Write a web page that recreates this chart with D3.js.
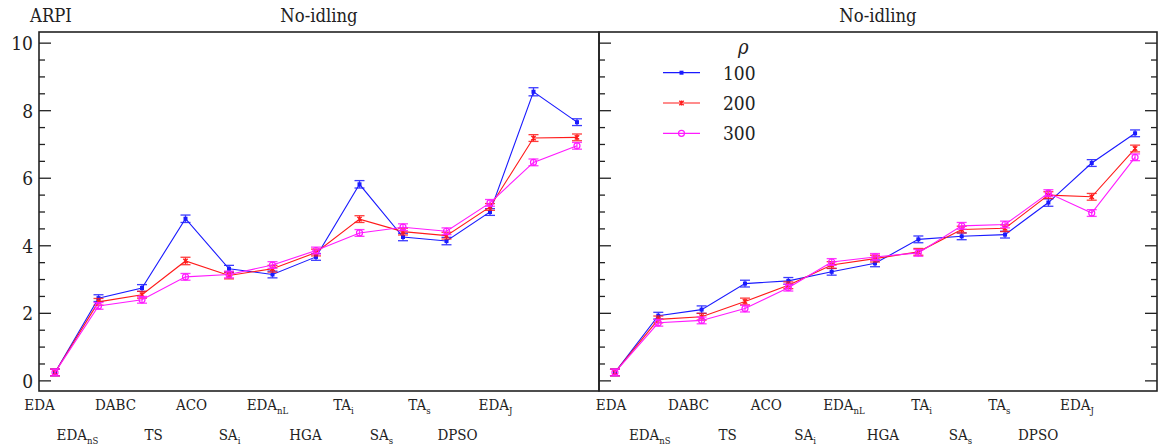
<!DOCTYPE html>
<html><head><meta charset="utf-8">
<script src="https://cdn.jsdelivr.net/npm/d3@7/dist/d3.min.js"></script>
<style>
body{margin:0;background:#fff;}
svg{display:block;}
</style></head>
<body><svg id="c" width="1163" height="445"></svg>
<script>
// ---- data ----
const categories = ["EDA","EDA_nS","DABC","TS","ACO","SA_i","EDA_nL","HGA","TA_i","SA_s","TA_s","DPSO","EDA_J"];
const rhoLabels = ["100","200","300"];
const yTicks = [0,2,4,6,8,10];
// Left panel (No-idling)
const left100 = [0.25,2.45,2.75,4.8,3.32,3.15,3.67,5.82,4.26,4.14,5.0,8.56,7.66];
const left200 = [0.25,2.34,2.55,3.55,3.12,3.32,3.8,4.79,4.42,4.3,5.15,7.19,7.21];
const left300 = [0.25,2.22,2.4,3.08,3.15,3.43,3.86,4.38,4.55,4.43,5.27,6.47,6.96];
const leftErr100 = [0.1,0.1,0.1,0.11,0.1,0.1,0.1,0.11,0.11,0.11,0.1,0.12,0.1];
const leftErr200 = [0.1,0.1,0.1,0.11,0.1,0.1,0.1,0.1,0.1,0.1,0.1,0.1,0.1];
const leftErr300 = [0.1,0.1,0.1,0.1,0.1,0.1,0.1,0.1,0.1,0.1,0.1,0.1,0.1];
// Right panel (No-idling)
const right100 = [0.25,1.93,2.11,2.88,2.96,3.23,3.48,4.19,4.28,4.33,5.28,6.45,7.33];
const right200 = [0.25,1.82,1.9,2.35,2.83,3.43,3.62,3.82,4.48,4.52,5.5,5.45,6.88];
const right300 = [0.25,1.72,1.79,2.14,2.76,3.52,3.67,3.79,4.59,4.63,5.56,4.97,6.62];
const rightErr100 = [0.1,0.1,0.11,0.1,0.1,0.1,0.1,0.1,0.1,0.1,0.11,0.1,0.1];
const rightErr200 = [0.1,0.1,0.1,0.1,0.1,0.1,0.1,0.1,0.1,0.1,0.1,0.1,0.1];
const rightErr300 = [0.1,0.1,0.1,0.1,0.1,0.1,0.1,0.1,0.1,0.1,0.1,0.1,0.1];

const colors = ["#1a1aff","#ff1a1a","#ff1aff"];
const FONT = "'DejaVu Serif Condensed', 'DejaVu Serif', serif";
const svg = d3.select("#c").attr("font-family", FONT);
const plotTop = 32, plotBottom = 391;
const y = d3.scaleLinear().domain([-0.3,10.33]).range([plotBottom, plotTop]);
const minorTicks = d3.range(0, 10.01, 0.5);

const panels = [
  {x0:39, x1:599, title:"No-idling", series:[left100,left200,left300], errs:[leftErr100,leftErr200,leftErr300], labelRange:[39.5,495.5], yLabels:true, rightTicks:false},
  {x0:599, x1:1157, title:"No-idling", series:[right100,right200,right300], errs:[rightErr100,rightErr200,rightErr300], labelRange:[611,1077], yLabels:false, rightTicks:true}
];

function labelText(sel, name){
  const parts = name.split("_");
  sel.append("tspan").text(parts[0]);
  if(parts[1]) sel.append("tspan").attr("font-size",9.5).attr("dy",4).text(parts[1]);
}

function marker(g, k, cx, cy, c){
  if(k===0){
    g.append("rect").attr("x",cx-2).attr("y",cy-2).attr("width",4).attr("height",4).attr("fill",c);
  } else if(k===1){
    g.append("path").attr("d",`M${cx-2.2},${cy-2.2}L${cx+2.2},${cy+2.2}M${cx-2.2},${cy+2.2}L${cx+2.2},${cy-2.2}M${cx},${cy-2.6}L${cx},${cy+2.6}`)
      .attr("stroke",c).attr("stroke-width",1.3);
  } else {
    g.append("circle").attr("cx",cx).attr("cy",cy).attr("r",3).attr("fill","none").attr("stroke",c).attr("stroke-width",1.2);
  }
}

panels.forEach((p,pi)=>{
  const x = d3.scaleLinear().domain([-0.368,12.506]).range([p.x0,p.x1]);
  const lx = d3.scalePoint().domain(categories).range(p.labelRange);
  const g = svg.append("g");

  p.series.forEach((vals,k)=>{
    const c = colors[k];
    const line = d3.line().x((d,i)=>x(i)).y(d=>y(d));
    g.append("path").datum(vals).attr("d",line).attr("fill","none").attr("stroke",c).attr("stroke-width",1.1);
    vals.forEach((v,i)=>{
      const e = p.errs[k][i];
      const cx = x(i);
      const eg = g.append("g").attr("stroke",c).attr("stroke-width",1.3).attr("opacity",0.85);
      eg.append("line").attr("x1",cx).attr("x2",cx).attr("y1",y(v-e)).attr("y2",y(v+e));
      eg.append("line").attr("x1",cx-5).attr("x2",cx+5).attr("y1",y(v-e)).attr("y2",y(v-e));
      eg.append("line").attr("x1",cx-5).attr("x2",cx+5).attr("y1",y(v+e)).attr("y2",y(v+e));
      marker(g,k,cx,y(v),c);
    });
  });

  g.append("rect").attr("x",p.x0).attr("y",plotTop).attr("width",p.x1-p.x0).attr("height",plotBottom-plotTop)
    .attr("fill","none").attr("stroke","#222").attr("stroke-width",1.6);

  minorTicks.forEach(t=>{
    const major = Math.abs(t%2)<1e-9;
    g.append("line").attr("x1",p.x0).attr("x2",p.x0+(major?12:6)).attr("y1",y(t)).attr("y2",y(t))
      .attr("stroke","#222").attr("stroke-width",1.3);
    if(p.rightTicks){
      g.append("line").attr("x1",p.x1).attr("x2",p.x1-(major?12:6)).attr("y1",y(t)).attr("y2",y(t))
        .attr("stroke","#222").attr("stroke-width",1.3);
    }
  });
  if(p.yLabels){
    yTicks.forEach(t=>{
      g.append("text").attr("x",p.x0-6).attr("y",y(t)).attr("dy","0.36em").attr("text-anchor","end")
        .attr("font-size",19).attr("fill","#222").text(t);
    });
  }

  g.append("text").attr("x",(p.x0+p.x1)/2).attr("y",22).attr("text-anchor","middle")
    .attr("font-size",18.3).attr("fill","#222").text(p.title);

  categories.forEach((cname,i)=>{
    const t = g.append("text").attr("x",lx(cname)).attr("y", i%2===0 ? 410 : 440)
      .attr("text-anchor","middle").attr("font-size",15).attr("fill","#222");
    labelText(t,cname);
  });
});

svg.append("text").attr("x",30).attr("y",22).attr("font-size",18.3).attr("fill","#222").text("ARPI");

const lg = svg.append("g");
lg.append("text").attr("x",738).attr("y",54).attr("font-size",20).attr("font-style","italic").attr("fill","#222").text("ρ");
rhoLabels.forEach((r,k)=>{
  const ly = 72.7 + k*30.3;
  lg.append("line").attr("x1",663).attr("x2",700).attr("y1",ly).attr("y2",ly).attr("stroke",colors[k]).attr("stroke-width",1.2);
  marker(lg,k,681.5,ly,colors[k]);
  lg.append("text").attr("x",723).attr("y",ly).attr("dy","0.36em").attr("font-size",19).attr("fill","#222").text(r);
});
</script></body></html>
